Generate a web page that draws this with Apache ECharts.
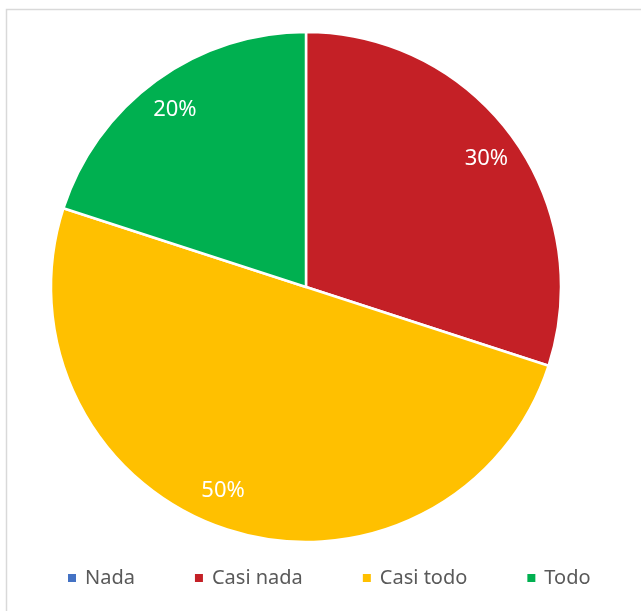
<!DOCTYPE html>
<html>
<head>
<meta charset="utf-8">
<script src="https://cdn.jsdelivr.net/npm/echarts@6/dist/echarts.min.js"></script>
<style>
  html, body { margin: 0; padding: 0; background: #ffffff; }
  #chart { width: 641px; height: 611px; }
</style>
</head>
<body>
<div id="chart"></div>
<script>
// Survey answers and their shares (percent)
const categories = ['Nada', 'Casi nada', 'Casi todo', 'Todo'];
const shares = [0, 30, 50, 20];
const sliceColors = ['#4472C4', '#C42026', '#FFC000', '#00B050'];

const pieData = categories.map((name, i) => ({
  name: name,
  value: shares[i],
  itemStyle: { color: sliceColors[i] }
}));

// Label ring: an invisible copy of the pie, twice as wide, so that its
// "inside" labels sit near the outer part of the visible slices.
const labelData = categories.map((name, i) => ({
  name: name,
  value: shares[i],
  label: name === 'Casi todo' ? { offset: [-14, -8] } : { offset: [0, 3] }
}));

const chart = echarts.init(document.getElementById('chart'), null, { renderer: 'canvas' });

chart.setOption({
  animation: false,
  backgroundColor: '#ffffff',
  color: sliceColors,
  graphic: [{
    type: 'rect',
    shape: { x: 6.5, y: 9.5, width: 720, height: 720 },
    style: { fill: 'none', stroke: '#D9D9D9', lineWidth: 1.5 },
    silent: true,
    z: 0
  }],
  legend: {
    data: categories,
    bottom: 23,
    left: 66,
    padding: 0,
    icon: 'rect',
    itemWidth: 10,
    itemHeight: 10,
    itemGap: 58,
    textStyle: {
      color: '#595959',
      fontSize: 20,
      fontFamily: 'Noto Sans',
      fontStyle: 'normal',
      padding: [0, 0, 0, 3]
    }
  },
  series: [
    {
      type: 'pie',
      center: [306, 287],
      radius: 255,
      startAngle: 90,
      clockwise: true,
      avoidLabelOverlap: false,
      itemStyle: { borderColor: '#ffffff', borderWidth: 2.5 },
      label: { show: false },
      labelLine: { show: false },
      emphasis: { disabled: true },
      data: pieData,
      z: 2
    },
    {
      type: 'pie',
      center: [306, 287],
      radius: 440,
      startAngle: 90,
      clockwise: true,
      silent: true,
      avoidLabelOverlap: false,
      itemStyle: { color: 'rgba(0,0,0,0)', borderWidth: 0 },
      legendHoverLink: false,
      label: {
        show: true,
        position: 'inside',
        color: '#ffffff',
        fontSize: 22,
        fontFamily: 'Noto Sans',
        fontStyle: 'normal',
        fontWeight: 'normal',
        formatter: p => (p.value > 0 ? p.value + '%' : '')
      },
      labelLine: { show: false },
      emphasis: { disabled: true },
      data: labelData,
      z: 3
    }
  ]
});
</script>
</body>
</html>
